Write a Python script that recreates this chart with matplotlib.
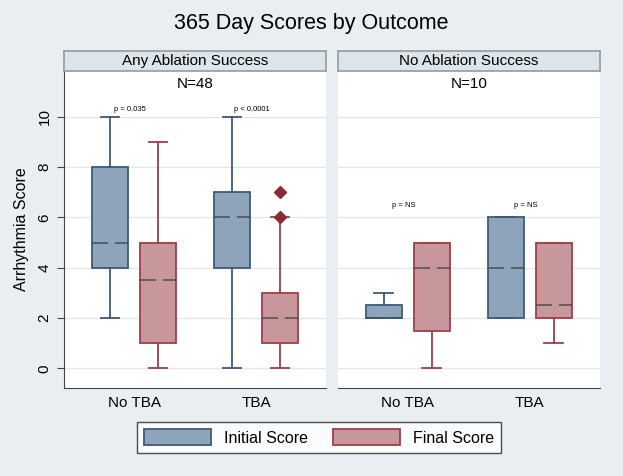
import matplotlib
matplotlib.use("Agg")
import matplotlib.pyplot as plt
from matplotlib.patches import Patch

plt.rcParams["font.family"] = ["Liberation Sans", "DejaVu Sans"]

# box statistics: whisker low, q1, median, q3, whisker high
panels = ["Any Ablation Success", "No Ablation Success"]
panel_n = ["N=48", "N=10"]
groups = ["No TBA", "TBA"]
p_labels = [["p = 0.035", "p < 0.0001"], ["p = NS", "p = NS"]]

initial_whislo = [[2, 0], [2, 2]]
initial_q1 = [[4, 4], [2, 2]]
initial_med = [[5, 6], [2, 4]]
initial_q3 = [[8, 7], [2.5, 6]]
initial_whishi = [[10, 10], [3, 6]]
initial_fliers = [[[], []], [[], []]]

final_whislo = [[0, 0], [0, 1]]
final_q1 = [[1, 1], [1.5, 2]]
final_med = [[3.5, 2], [4, 2.5]]
final_q3 = [[5, 3], [5, 5]]
final_whishi = [[9, 6], [5, 5]]
final_fliers = [[[], [6, 7]], [[], []]]

bg = "#e8eef1"
init_fill, init_edge = "#8da4ba", "#3d5a78"
fin_fill, fin_edge = "#c8979b", "#9e3e48"

W, H = 623, 476
fig = plt.figure(figsize=(6.23, 4.76), dpi=100, facecolor=bg)


def px(x0, y0, x1, y1):
    return [x0 / W, 1 - y1 / H, (x1 - x0) / W, (y1 - y0) / H]


fig.text(0.5, 1 - 23 / H, "365 Day Scores by Outcome", ha="center", va="center",
         fontsize=15.5)

panel_x = [(64, 326), (337.5, 600)]
for pi in range(2):
    x0, x1 = panel_x[pi]
    ax = fig.add_axes(px(x0, 71, x1, 388))
    ax.set_facecolor("white")
    ax.set_xlim(0.426, 2.574)
    ax.set_ylim(-0.783, 11.82)
    ax.set_yticks(range(0, 11, 2))
    ax.yaxis.grid(True, color="#e6e6e6", lw=1)
    ax.set_axisbelow(True)

    for cls, fill, edge, src in [
        (0, init_fill, init_edge,
         (initial_whislo, initial_q1, initial_med, initial_q3, initial_whishi, initial_fliers)),
        (1, fin_fill, fin_edge,
         (final_whislo, final_q1, final_med, final_q3, final_whishi, final_fliers)),
    ]:
        lo, q1, med, q3, hi, fl = src
        stats = [dict(whislo=lo[pi][g], q1=q1[pi][g], med=med[pi][g], q3=q3[pi][g],
                      whishi=hi[pi][g], fliers=fl[pi][g]) for g in range(2)]
        pos = [g + 1 + (-0.197 if cls == 0 else 0.197) for g in range(2)]
        ax.bxp(stats, positions=pos, widths=0.295, patch_artist=True, capwidths=0.155,
               boxprops=dict(facecolor=fill, edgecolor=edge, lw=1.3),
               whiskerprops=dict(color=edge, lw=1.3),
               capprops=dict(color=edge, lw=1.3),
               medianprops=dict(color="#4a4f55", lw=1.1, linestyle=(0, (10.5, 4.5))),
               flierprops=dict(marker="D", markersize=6, markerfacecolor="#8b2a30",
                               markeredgecolor="#8b2a30"),
               manage_ticks=False)

    ax.set_xticks([1, 2])
    ax.set_xticklabels(groups, fontsize=11)
    for s in ["top", "right"]:
        ax.spines[s].set_visible(False)
    ax.spines["bottom"].set_color("#444444")
    ax.tick_params(axis="x", length=0, pad=6)
    if pi == 0:
        ax.spines["left"].set_color("#444444")
        ax.set_yticklabels([str(v) for v in range(0, 11, 2)], rotation=90,
                           va="center", fontsize=11)
        ax.tick_params(axis="y", length=5, color="#444444", pad=4)
        ax.set_ylabel("Arrhythmia Score", fontsize=11.5, labelpad=6)
    else:
        ax.spines["left"].set_visible(False)
        ax.tick_params(axis="y", length=0, labelleft=False)

    ax.text(1.5, 11.3, panel_n[pi], ha="center", va="center", fontsize=11)
    py = 10.3 if pi == 0 else 6.46
    for g in range(2):
        ax.text(g + 1 - 0.03, py, p_labels[pi][g], ha="center", va="center",
                fontsize=5.5)

    strip = fig.add_axes(px(x0, 51, x1, 71))
    strip.set_facecolor("#dce5eb")
    strip.set_xticks([])
    strip.set_yticks([])
    for s in strip.spines.values():
        s.set_color("#999999")
        s.set_linewidth(1.2)
    strip.text(0.5, 0.5, panels[pi], ha="center", va="center", fontsize=11,
               transform=strip.transAxes)

handles = [Patch(facecolor=init_fill, edgecolor=init_edge, lw=1.3, label="Initial Score"),
           Patch(facecolor=fin_fill, edgecolor=fin_edge, lw=1.3, label="Final Score")]
leg = fig.legend(handles=handles, ncol=2, loc="center", bbox_to_anchor=(319 / W, 1 - 437.5 / H),
                 fontsize=11.5, frameon=True, fancybox=False, handlelength=4.2,
                 handleheight=1.1, columnspacing=1.6, borderpad=0.45)
leg.get_frame().set_edgecolor("#222222")
leg.get_frame().set_linewidth(1.0)

fig.savefig("out.png", dpi=100, facecolor=bg)
